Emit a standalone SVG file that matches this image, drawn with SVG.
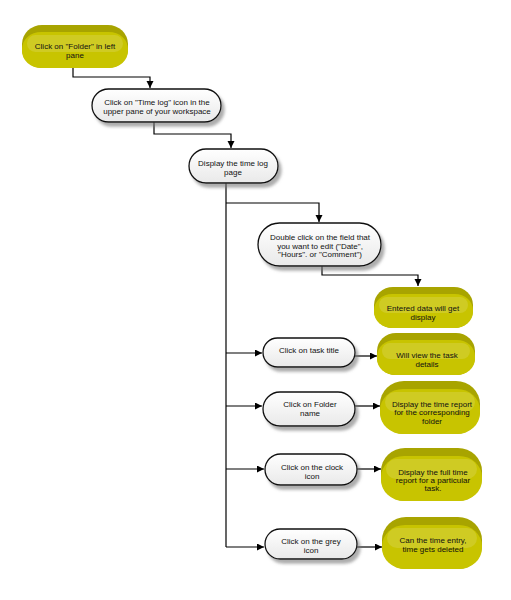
<svg xmlns="http://www.w3.org/2000/svg" width="511" height="600" viewBox="0 0 511 600">
<style>
text{font-family:"Liberation Sans",Arial,sans-serif;font-size:8px;fill:#111;text-anchor:middle}
.wn{fill:url(#wg);stroke:#111;stroke-width:1.3;filter:url(#sh)}
.ylid{fill:#a8a400}
.ybody{fill:#c8c400}
.yhi{fill:#d4d13a;opacity:0.6}
.con{fill:none;stroke:#000;stroke-width:1.2}
</style>
<defs>
<linearGradient id="wg" x1="0" y1="0" x2="0" y2="1">
<stop offset="0" stop-color="#ffffff"/>
<stop offset="1" stop-color="#e9e9e9"/>
</linearGradient>
<filter id="sh" x="-20%" y="-30%" width="150%" height="180%">
<feDropShadow dx="3" dy="4" stdDeviation="1.5" flood-color="#777" flood-opacity="0.6"/>
</filter>
<marker id="ar" markerUnits="userSpaceOnUse" markerWidth="8" markerHeight="8" refX="7" refY="3.5" orient="auto">
<path d="M0,0 L7,3.5 L0,7 z" fill="#000"/>
</marker>
</defs>
<rect width="511" height="600" fill="#fff"/>

<g id="connectors">
<path class="con" d="M73,68 V77 H150 V88" marker-end="url(#ar)"/>
<path class="con" d="M154,122 V134 H231 V148" marker-end="url(#ar)"/>
<path class="con" d="M226,183 V547"/>
<path class="con" d="M226,203 H319 V222" marker-end="url(#ar)"/>
<path class="con" d="M322,266 V275 H418 V286" marker-end="url(#ar)"/>
<path class="con" d="M226,353 H262" marker-end="url(#ar)"/>
<path class="con" d="M355,356 H377" marker-end="url(#ar)"/>
<path class="con" d="M226,406 H262" marker-end="url(#ar)"/>
<path class="con" d="M355,406 H380" marker-end="url(#ar)"/>
<path class="con" d="M226,469 H264" marker-end="url(#ar)"/>
<path class="con" d="M357,469 H381" marker-end="url(#ar)"/>
<path class="con" d="M226,547 H264" marker-end="url(#ar)"/>
<path class="con" d="M357,547 H382" marker-end="url(#ar)"/>
</g>

<g id="n1">
<rect class="ylid" x="22" y="25" width="106" height="43" rx="20" ry="19"/>
<rect class="ybody" x="22" y="32" width="106" height="36" rx="19" ry="17"/>
<rect class="yhi" x="27" y="35" width="96" height="17" rx="8.5"/>
<text x="75" y="49">Click on "Folder" in left</text>
<text x="75" y="57.5">pane</text>
</g>

<g id="n2">
<rect class="wn" x="92" y="89" width="129" height="33" rx="16.5"/>
<text x="157" y="105">Click on "Time log" icon in the</text>
<text x="157" y="113.5">upper pane of your workspace</text>
</g>

<g id="n3">
<rect class="wn" x="189" y="149" width="89" height="34" rx="17"/>
<text x="233" y="166">Display the time log</text>
<text x="233" y="175">page</text>
</g>

<g id="n4">
<rect class="wn" x="258" y="223" width="123" height="43" rx="21.5"/>
<text x="320" y="240">Double click on the field that</text>
<text x="320" y="248.5">you want to edit ("Date",</text>
<text x="320" y="257">"Hours". or "Comment")</text>
</g>

<g id="n5">
<rect class="ylid" x="374" y="287" width="99" height="41" rx="19" ry="18"/>
<rect class="ybody" x="374" y="294" width="99" height="34" rx="18" ry="16"/>
<rect class="yhi" x="379" y="297" width="89" height="16" rx="8"/>
<text x="423" y="311">Entered data will get</text>
<text x="423" y="319.5">display</text>
</g>

<g id="n6">
<rect class="wn" x="263" y="338" width="92" height="29" rx="14.5"/>
<text x="309" y="353">Click on task title</text>
</g>

<g id="n7">
<rect class="ylid" x="377" y="333" width="98" height="42" rx="19" ry="18"/>
<rect class="ybody" x="377" y="340" width="98" height="35" rx="18" ry="16"/>
<rect class="yhi" x="382" y="343" width="88" height="16" rx="8"/>
<text x="427" y="358">Will view the task</text>
<text x="427" y="366.5">details</text>
</g>

<g id="n8">
<rect class="wn" x="263" y="392" width="92" height="34" rx="17"/>
<text x="310" y="407">Click on Folder</text>
<text x="310" y="415.5">name</text>
</g>

<g id="n9">
<rect class="ylid" x="380" y="381" width="100" height="53" rx="24" ry="23"/>
<rect class="ybody" x="380" y="389" width="100" height="45" rx="23" ry="21"/>
<rect class="yhi" x="385" y="392" width="90" height="20" rx="10"/>
<text x="432" y="406.5">Display the time report</text>
<text x="432" y="415">for the corresponding</text>
<text x="432" y="423.5">folder</text>
</g>

<g id="n10">
<rect class="wn" x="265" y="454" width="92" height="31" rx="15.5"/>
<text x="312" y="470">Click on the clock</text>
<text x="312" y="478.5">icon</text>
</g>

<g id="n11">
<rect class="ylid" x="381" y="448" width="101" height="53" rx="24" ry="23"/>
<rect class="ybody" x="381" y="456" width="101" height="45" rx="23" ry="21"/>
<rect class="yhi" x="386" y="459" width="91" height="20" rx="10"/>
<text x="433" y="475">Display the full time</text>
<text x="433" y="483">report for a particular</text>
<text x="433" y="491">task.</text>
</g>

<g id="n12">
<rect class="wn" x="265" y="529" width="92" height="30" rx="15"/>
<text x="311" y="544">Click on the grey</text>
<text x="311" y="552.5">icon</text>
</g>

<g id="n13">
<rect class="ylid" x="382" y="517" width="100" height="52" rx="24" ry="23"/>
<rect class="ybody" x="382" y="525" width="100" height="44" rx="23" ry="21"/>
<rect class="yhi" x="387" y="528" width="90" height="20" rx="10"/>
<text x="433" y="543">Can the time entry,</text>
<text x="433" y="551.5">time gets deleted</text>
</g>
</svg>
